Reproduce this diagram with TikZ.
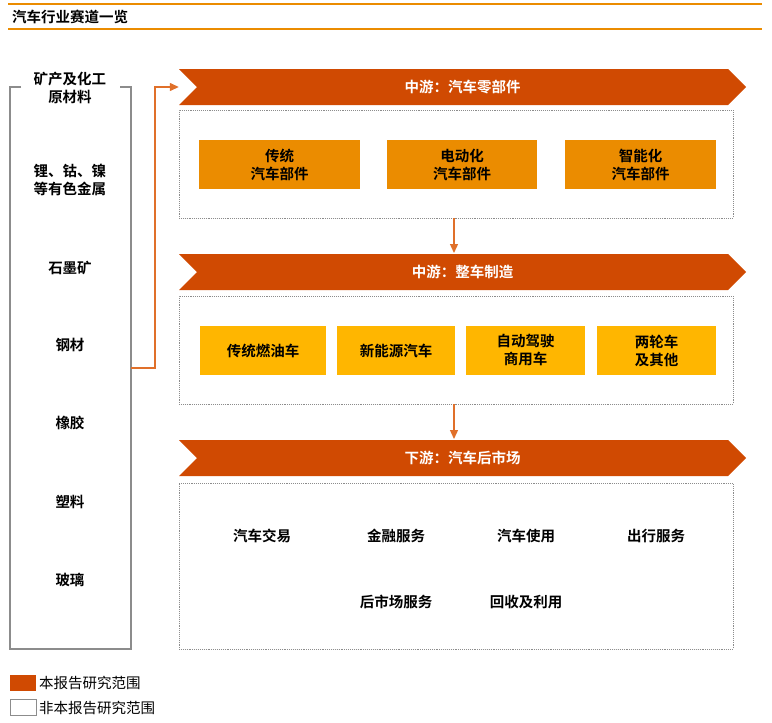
\documentclass[tikz,border=0pt]{standalone}
\usepackage{fontspec}
\setmainfont{Noto Sans CJK SC}[BoldFont={Noto Sans CJK SC Bold}]
\usetikzlibrary{arrows.meta}
\definecolor{pwcred}{HTML}{D04A02}
\definecolor{pwcorange}{HTML}{EB8C00}
\definecolor{pwcyellow}{HTML}{FFB600}
\definecolor{linkred}{HTML}{E0702A}
\definecolor{framegray}{HTML}{8C8C8C}
\tikzset{
  txt/.style={font=\fontsize{14.5}{18}\selectfont\bfseries, align=center, inner sep=0pt},
  bantxt/.style={txt, text=white, minimum width=567pt, minimum height=36pt},
  dotbox/.style={draw=framegray, densely dotted, line width=0.9pt, minimum width=554pt, inner sep=0pt},
  partbox/.style={txt, fill=pwcorange, minimum height=49pt},
  carbox/.style={txt, fill=pwcyellow, minimum height=49pt},
  link/.style={draw=linkred, line width=1.3pt, -{Triangle[length=9pt,width=8pt]}}
}
\newcommand{\banner}[1]{% top y of banner
  \fill[pwcred] (179,#1) -- (728,#1) -- (746,#1+18) -- (728,#1+36) -- (179,#1+36) -- (197,#1+18) -- cycle;}
\begin{document}
\begin{tikzpicture}[x=1pt,y=-1pt]
\useasboundingbox (0,0) rectangle (772,723);

% title
\draw[pwcorange, line width=1.2pt] (8,4) -- (762,4);
\draw[pwcorange, line width=1.2pt] (8,29) -- (762,29);
\node[txt, anchor=west] (title) at (12,17) {汽车行业赛道一览};

% upstream column
\draw[framegray, line width=1.1pt] (21,87) -- (10,87) -- (10,649) -- (131,649) -- (131,87) -- (120,87);
\node[txt] (raw) at (70,88) {矿产及化工\\原材料};
\node[txt] (metal) at (70,180) {锂、钴、镍\\等有色金属};
\node[txt] (graphite) at (70,268) {石墨矿};
\node[txt] (steel) at (70,345) {钢材};
\node[txt] (rubber) at (70,423) {橡胶};
\node[txt] (plastic) at (70,502) {塑料};
\node[txt] (glass) at (70,580) {玻璃};
\coordinate (out) at (131,368);

% banners
\banner{69}
\node[bantxt] (ban1) at (462.5,87) {中游：汽车零部件};
\banner{254}
\node[bantxt] (ban2) at (462.5,272) {中游：整车制造};
\banner{440}
\node[bantxt] (ban3) at (462.5,458) {下游：汽车后市场};

% parts
\node[dotbox, minimum height=108pt] (mid1) at (456,164) {};
\node[partbox, minimum width=161pt] (p1) at (279.5,164.5) {传统\\汽车部件};
\node[partbox, minimum width=150pt] (p2) at (462,164.5) {电动化\\汽车部件};
\node[partbox, minimum width=151pt] (p3) at (640.5,164.5) {智能化\\汽车部件};

% vehicles
\node[dotbox, minimum height=108pt] (mid2) at (456,350) {};
\node[carbox, minimum width=126pt] (c1) at (263,350.5) {传统燃油车};
\node[carbox, minimum width=118pt] (c2) at (396,350.5) {新能源汽车};
\node[carbox, minimum width=119pt] (c3) at (525.5,350.5) {自动驾驶\\商用车};
\node[carbox, minimum width=119pt] (c4) at (656.5,350.5) {两轮车\\及其他};

% aftermarket
\node[dotbox, minimum height=166pt] (down) at (456,566) {};
\node[txt] (trade) at (262,536) {汽车交易};
\node[txt] (finance) at (396,536) {金融服务};
\node[txt] (usage) at (526,536) {汽车使用};
\node[txt] (travel) at (656,536) {出行服务};
\node[txt] (service) at (396,602) {后市场服务};
\node[txt] (recycle) at (526,602) {回收及利用};

% connectors
\draw[link] (out) -- (155,368) |- (ban1.west);
\draw[link] (mid1.south -| 454,0) -- (454,253);
\draw[link] (mid2.south -| 454,0) -- (454,439);

% legend
\fill[pwcred] (10,675) rectangle (36,691);
\node[txt, font=\fontsize{14.5}{18}\selectfont, anchor=west] (inscope) at (39,683) {本报告研究范围};
\draw[framegray, line width=1pt] (10,699) rectangle (36,715);
\node[txt, font=\fontsize{14.5}{18}\selectfont, anchor=west] (outscope) at (39,708) {非本报告研究范围};
\end{tikzpicture}
\end{document}
